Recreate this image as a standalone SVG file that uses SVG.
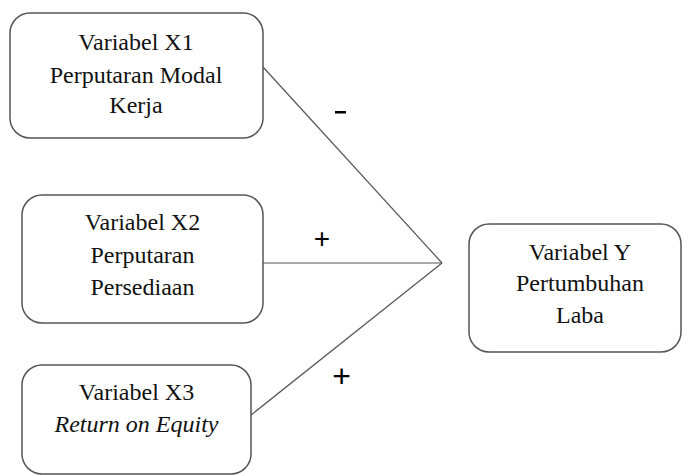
<svg xmlns="http://www.w3.org/2000/svg" width="682" height="476" viewBox="0 0 682 476">
<style>
.box{fill:#fff;stroke:#555;stroke-width:1.5}
.t{font-size:24px;fill:#111;text-anchor:middle}
.i{font-style:italic}
.c{stroke:#555;stroke-width:1.2;fill:none}
.s{fill:#000;text-anchor:middle}
</style>
<rect width="682" height="476" fill="#fff"/>
<g id="connectors">
<line class="c" x1="263" y1="67" x2="442" y2="263"/>
<line class="c" x1="263" y1="263" x2="442" y2="263"/>
<line class="c" x1="251" y1="415" x2="442" y2="263"/>
<rect x="335" y="111" width="11" height="2.5" fill="#000"/>
<text class="s" font-family="Liberation Sans, Arial, sans-serif" x="322" y="248" font-size="28">+</text>
<text class="s" font-family="Liberation Sans, Arial, sans-serif" x="341.5" y="387" font-size="32">+</text>
</g>
<g id="x1" font-family="Liberation Serif, Times New Roman, DejaVu Serif, serif">
<rect class="box" x="10" y="13" width="253" height="125" rx="20"/>
<text class="t" x="136" y="50">Variabel X1</text>
<text class="t" x="136" y="83">Perputaran Modal</text>
<text class="t" x="136" y="113">Kerja</text>
</g>
<g id="x2" font-family="Liberation Serif, Times New Roman, DejaVu Serif, serif">
<rect class="box" x="22" y="195" width="241" height="128" rx="20"/>
<text class="t" x="142.5" y="230">Variabel X2</text>
<text class="t" x="142.5" y="263">Perputaran</text>
<text class="t" x="142.5" y="295">Persediaan</text>
</g>
<g id="x3" font-family="Liberation Serif, Times New Roman, DejaVu Serif, serif">
<rect class="box" x="22" y="365" width="229" height="109" rx="20"/>
<text class="t" x="136.5" y="400">Variabel X3</text>
<text class="t i" x="136.5" y="432">Return on Equity</text>
</g>
<g id="y" font-family="Liberation Serif, Times New Roman, DejaVu Serif, serif">
<rect class="box" x="469" y="224" width="212" height="128" rx="20"/>
<text class="t" x="580" y="260">Variabel Y</text>
<text class="t" x="580" y="291">Pertumbuhan</text>
<text class="t" x="580" y="323">Laba</text>
</g>
</svg>
